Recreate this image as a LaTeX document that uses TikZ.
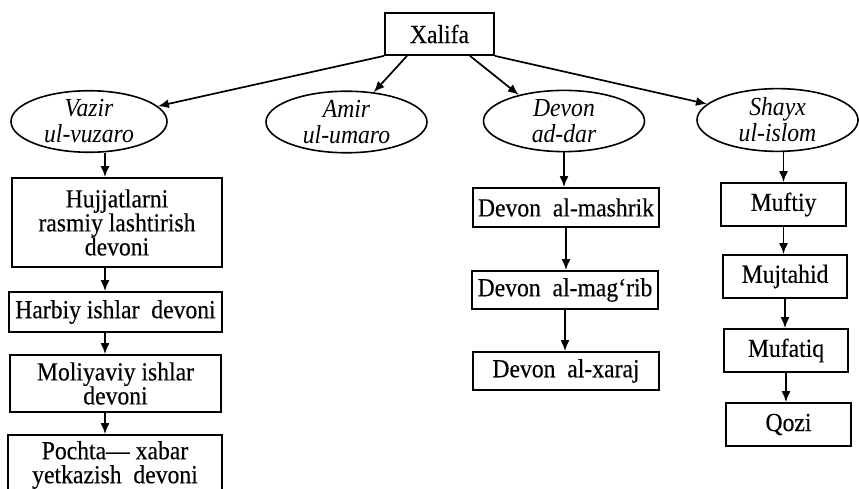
\documentclass[tikz,border=0pt]{standalone}
\usepackage{fontspec}
\setmainfont{Liberation Serif}[FakeStretch=0.91]
\newfontfamily\boxfont{Liberation Serif}[FakeStretch=0.91,FakeBold=0.3]
\usetikzlibrary{arrows.meta,shapes.geometric}
\tikzset{
  box/.style={draw, line width=1.8pt, inner sep=0pt, align=center, font=\boxfont\fontsize{26}{24}\selectfont},
  oval/.style={draw, ellipse, line width=1.6pt, inner sep=0pt, minimum width=161pt, minimum height=58pt, align=center, font=\fontsize{26}{26}\selectfont\itshape},
  arr/.style={line width=1.7pt, -{Latex[length=11pt,width=9pt]}}
}
\begin{document}
\begin{tikzpicture}[x=1pt,y=-1pt]
\clip (0,0) rectangle (859,489);

\node[box, minimum width=109pt, minimum height=42pt] (xalifa) at (439.5,34) {Xalifa};

\node[oval, minimum width=156pt, minimum height=54pt] (vazir) at (89,121.5) {Vazir\\ul-vuzaro};
\node[oval] (amir) at (346.5,122) {Amir\\ul-umaro};
\node[oval] (devon) at (564,121) {Devon\\ad-dar};
\node[oval] (shayx) at (777.5,120) {Shayx\\ul-islom};

% vazir ul-vuzaro
\node[box, minimum width=210pt, minimum height=89pt] (hujjat) at (117,222.5) {Hujjatlarni\\rasmiy lashtirish\\devoni};
\node[box, minimum width=213pt, minimum height=40pt] (harbiy) at (115.5,312) {Harbiy ishlar\ \ devoni};
\node[box, minimum width=211pt, minimum height=57pt] (moliya) at (115.5,383.5) {Moliyaviy ishlar\\devoni};
\node[box, minimum width=214pt, minimum height=60pt] (pochta) at (115,465) {Pochta— xabar\\yetkazish\ \ devoni};

% devon ad-dar
\node[box, minimum width=186pt, minimum height=39pt] (mashrik) at (566,207.5) {Devon\ \ al-mashrik};
\node[box, minimum width=186pt, minimum height=38pt] (magrib) at (565,290) {Devon\ \ al-mag‘rib};
\node[box, minimum width=186pt, minimum height=38pt] (xaraj) at (566,371) {Devon\ \ al-xaraj};

% shayx ul-islom
\node[box, minimum width=125pt, minimum height=43pt] (muftiy) at (783.5,204.5) {Muftiy};
\node[box, minimum width=124pt, minimum height=43pt] (mujtahid) at (785,276.5) {Mujtahid};
\node[box, minimum width=124pt, minimum height=43pt] (mufatiq) at (786,350.5) {Mufatiq};
\node[box, minimum width=125pt, minimum height=43pt] (qozi) at (788.5,424.5) {Qozi};

\draw[arr] (xalifa.south west) -- (vazir);
\draw[arr] ([xshift=-32.5pt]xalifa.south) -- (amir);
\draw[arr] ([xshift=30.5pt]xalifa.south) -- (devon.150);
\draw[arr] (xalifa.south east) -- (shayx);

\draw[arr] ([xshift=16pt]vazir.south) -- ([xshift=-12pt]hujjat.north);
\draw[arr] ([xshift=-12pt]hujjat.south) -- ([xshift=-10.5pt]harbiy.north);
\draw[arr] ([xshift=-10.5pt]harbiy.south) -- ([xshift=-10.5pt]moliya.north);
\draw[arr] ([xshift=-10.5pt]moliya.south) -- ([xshift=-10pt]pochta.north);

\draw[arr] (devon.south) -- (devon.south |- mashrik.north);
\draw[arr] (mashrik.south) -- (mashrik.south |- magrib.north);
\draw[arr] (magrib.south) -- (magrib.south |- xaraj.north);

\draw[arr] (muftiy.north |- shayx.south) -- (muftiy.north);
\draw[arr] (muftiy.south) -- (muftiy.south |- mujtahid.north);
\draw[arr] (mujtahid.south) -- (mujtahid.south |- mufatiq.north);
\draw[arr] (mufatiq.south) -- (mufatiq.south |- qozi.north);
\end{tikzpicture}
\end{document}
